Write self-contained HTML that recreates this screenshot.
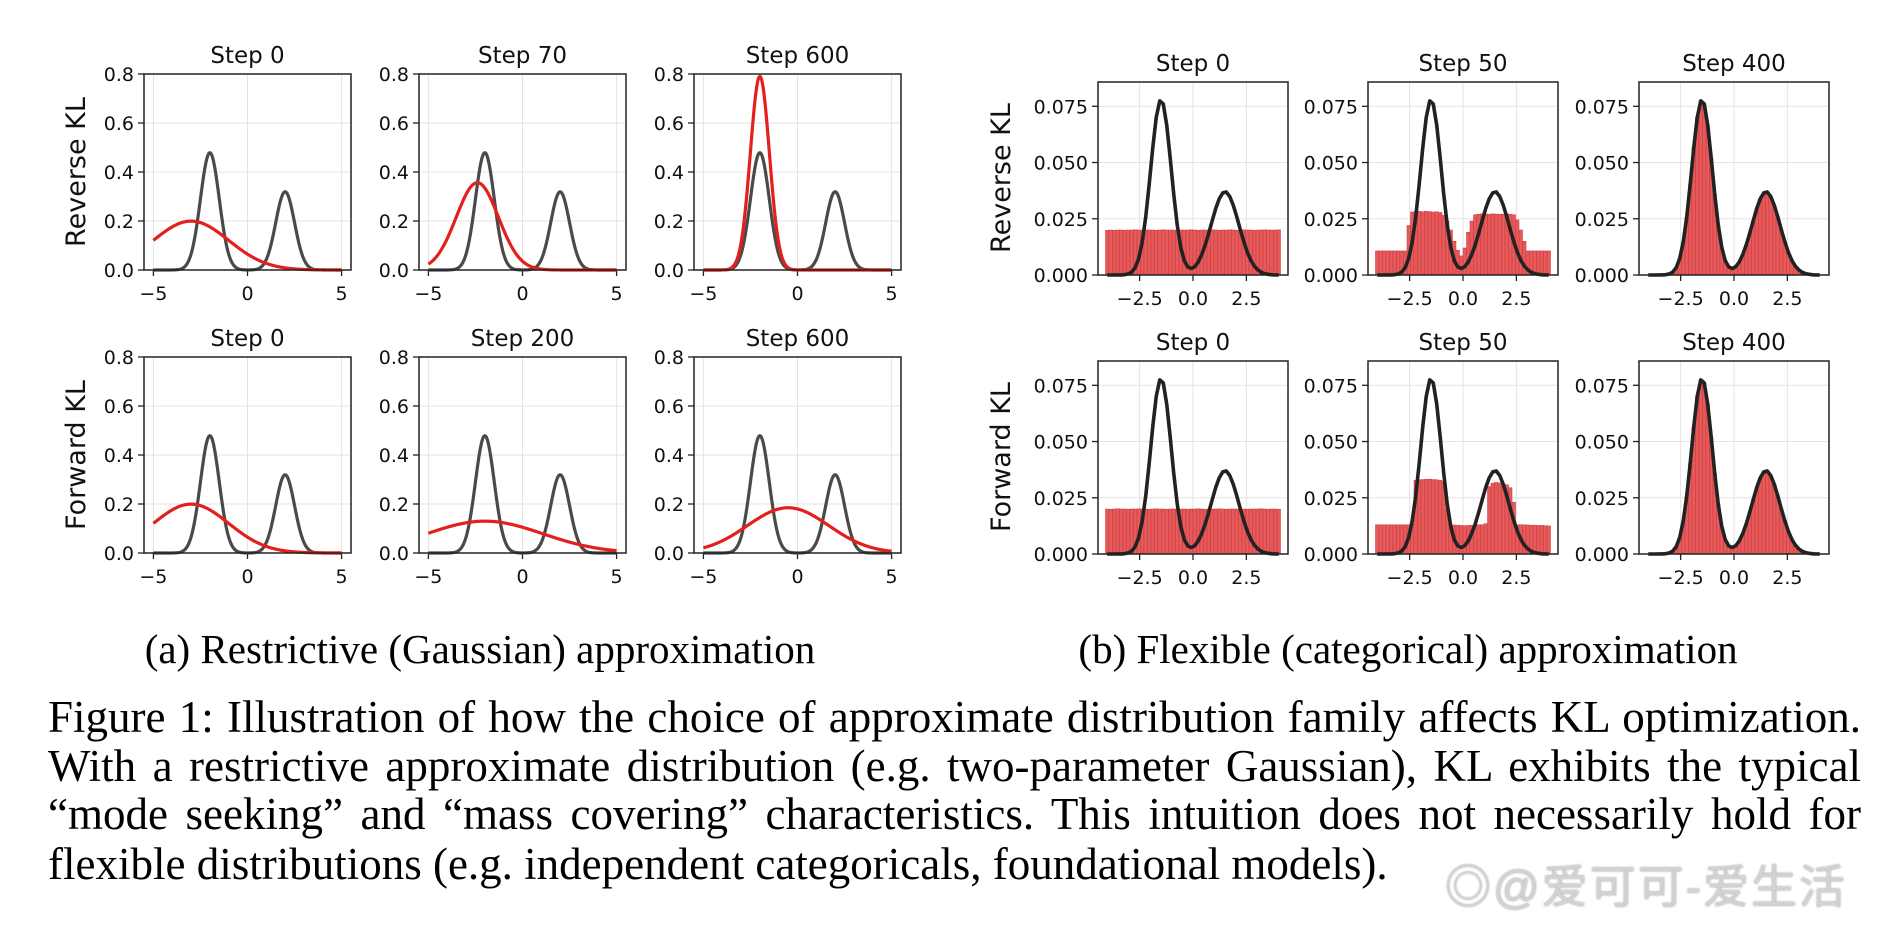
<!DOCTYPE html>
<html><head><meta charset="utf-8">
<style>
html,body{margin:0;padding:0;background:#fff;}
#wrap{position:relative;width:1898px;height:930px;overflow:hidden;background:#fff;}
svg{position:absolute;left:0;top:0;}
.cap{position:absolute;left:48px;width:1813px;font-family:"Liberation Serif",serif;font-size:45px;line-height:49px;white-space:nowrap;color:#000;}
.j{text-align:justify;text-align-last:justify;}
.sub{position:absolute;font-family:"Liberation Serif",serif;font-size:41px;white-space:nowrap;transform:translateX(-50%);color:#000;}
#wm{position:absolute;left:1445px;top:864px;font-family:"Liberation Sans","Noto Sans CJK SC",sans-serif;font-size:46px;line-height:46px;color:#d2d2d2;letter-spacing:2px;white-space:nowrap;text-shadow:0 0 2px #999;}
</style></head>
<body>
<div id="wrap">
<svg id="fig" width="1898" height="930" xmlns="http://www.w3.org/2000/svg"></svg>
<div class="sub" style="left:480px;top:625px;">(a) Restrictive (Gaussian) approximation</div>
<div class="sub" style="left:1408px;top:625px;">(b) Flexible (categorical) approximation</div>
<div class="cap j" style="top:693px;">Figure 1: Illustration of how the choice of approximate distribution family affects KL optimization.</div>
<div class="cap j" style="top:742px;">With a restrictive approximate distribution (e.g. two-parameter Gaussian), KL exhibits the typical</div>
<div class="cap j" style="top:790px;">“mode seeking” and “mass covering” characteristics. This intuition does not necessarily hold for</div>
<div class="cap" style="top:840px;">flexible distributions (e.g. independent categoricals, foundational models).</div>
<div id="wm">◎@爱可可-爱生活</div>
</div>
<script>
// ---- Left (Gaussian) panel data ----
const leftTitlesRev = ["Step 0", "Step 70", "Step 600"];
const leftTitlesFwd = ["Step 0", "Step 200", "Step 600"];
const revMeans = [-3, -2.4, -2];
const revSigmas = [2, 1.12, 0.505];
const fwdMeans = [-3, -2, -0.5];
const fwdSigmas = [2, 3.07, 2.16];
const targetWeights = [0.6, 0.4];
const targetMeans = [-2, 2];
const targetSigmas = [0.5, 0.5];
const leftXTicks = [-5, 0, 5];
const leftYTicks = [0, 0.2, 0.4, 0.6, 0.8];
const leftYTickLabels = ["0.0", "0.2", "0.4", "0.6", "0.8"];

// ---- Right (categorical) panel data ----
const rightTitlesRev = ["Step 0", "Step 50", "Step 400"];
const rightTitlesFwd = ["Step 0", "Step 50", "Step 400"];
const rightXTicks = [-2.5, 0, 2.5];
const rightXTickLabels = ["\u22122.5", "0.0", "2.5"];
const rightYTicks = [0, 0.025, 0.05, 0.075];
const rightYTickLabels = ["0.000", "0.025", "0.050", "0.075"];
const targetProbs = [0,0,0.000002,0.00001,0.00004,0.00015,0.00047,0.0013,0.0033,0.0074,
 0.0147,0.0258,0.0405,0.0565,0.0701,0.0774,0.0761,0.0666,0.0518,0.0359,
 0.0222,0.0123,0.0064,0.0036,0.0029,0.0037,0.0058,0.0091,0.0134,0.0186,
 0.0242,0.0296,0.0339,0.0365,0.0369,0.0349,0.0310,0.0259,0.0202,0.0149,
 0.0102,0.0066,0.0040,0.0023,0.0012,0.0006,0.0003,0.0001,0.00005,0];
const barsRev0 = [0.0199,0.0200,0.0199,0.0200,0.0200,0.0199,0.0200,0.0200,0.0201,0.0200,
 0.0200,0.0201,0.0200,0.0200,0.0199,0.0200,0.0201,0.0200,0.0200,0.0200,
 0.0199,0.0200,0.0200,0.0200,0.0201,0.0200,0.0199,0.0200,0.0200,0.0200,
 0.0201,0.0200,0.0199,0.0200,0.0200,0.0201,0.0200,0.0199,0.0200,0.0201,
 0.0200,0.0200,0.0199,0.0200,0.0200,0.0201,0.0200,0.0200,0.0200,0.0201];
const barsRev50 = [0.0107,0.0107,0.0107,0.0107,0.0107,0.0107,0.0107,0.0107,0.0107,0.0220,
 0.0280,0.0282,0.0283,0.0281,0.0283,0.0282,0.0280,0.0281,0.0278,0.0265,
 0.0240,0.0200,0.0150,0.0110,0.0085,0.0120,0.0190,0.0240,0.0268,0.0270,
 0.0272,0.0271,0.0270,0.0272,0.0271,0.0270,0.0271,0.0272,0.0270,0.0268,
 0.0245,0.0200,0.0150,0.0107,0.0107,0.0107,0.0107,0.0107,0.0107,0.0107];
const barsRev400 = targetProbs.slice();
const barsFwd0 = [0.0200,0.0199,0.0200,0.0201,0.0200,0.0200,0.0199,0.0200,0.0200,0.0201,
 0.0200,0.0200,0.0199,0.0200,0.0201,0.0200,0.0200,0.0199,0.0200,0.0200,
 0.0201,0.0200,0.0200,0.0199,0.0200,0.0200,0.0201,0.0200,0.0199,0.0200,
 0.0200,0.0200,0.0201,0.0200,0.0199,0.0200,0.0200,0.0200,0.0201,0.0200,
 0.0199,0.0200,0.0200,0.0200,0.0201,0.0200,0.0199,0.0200,0.0200,0.0199];
const barsFwd50 = [0.0130,0.0130,0.0130,0.0130,0.0130,0.0130,0.0130,0.0130,0.0130,0.0130,
 0.0135,0.0328,0.0330,0.0331,0.0332,0.0333,0.0331,0.0330,0.0328,0.0320,
 0.0200,0.0130,0.0129,0.0128,0.0127,0.0126,0.0127,0.0128,0.0129,0.0130,
 0.0130,0.0135,0.0300,0.0315,0.0318,0.0316,0.0312,0.0308,0.0295,0.0230,
 0.0130,0.0130,0.0130,0.0129,0.0128,0.0128,0.0127,0.0127,0.0126,0.0125];
const barsFwd400 = targetProbs.slice();

const NS = "http://www.w3.org/2000/svg";
const svg = document.getElementById('fig');
function mk(tag, attrs, parent) {
  const e = document.createElementNS(NS, tag);
  for (const k in attrs) e.setAttribute(k, attrs[k]);
  (parent || svg).appendChild(e);
  return e;
}
const TICKFONT = '"DejaVu Sans","Liberation Sans",sans-serif';

function axesFrame(L, T, W, H, xmin, xmax, ymin, ymax, xt, xtl, yt, ytl, title, name) {
  const g = mk('g', {});
  
  
  const sx = v => L + (v - xmin) / (xmax - xmin) * W;
  const sy = v => T + H - (v - ymin) / (ymax - ymin) * H;
  xt.forEach((v) => {
    const l = mk('line', {x1: sx(v), x2: sx(v), y1: T, y2: T + H, stroke: '#e3e3e3', 'stroke-width': 1}, g);
    
    
  });
  yt.forEach((v) => {
    const l = mk('line', {x1: L, x2: L + W, y1: sy(v), y2: sy(v), stroke: '#e3e3e3', 'stroke-width': 1}, g);
    
    
  });
  xt.forEach((v, i) => {
    mk('line', {x1: sx(v), x2: sx(v), y1: T + H, y2: T + H + 6, stroke: '#222', 'stroke-width': 1.3}, g);
    const t = mk('text', {x: sx(v), y: T + H + 30, 'text-anchor': 'middle', 'font-family': TICKFONT, 'font-size': 19, fill: '#111'}, g);
    t.textContent = xtl[i];
    
    
  });
  yt.forEach((v, i) => {
    mk('line', {x1: L - 6, x2: L, y1: sy(v), y2: sy(v), stroke: '#222', 'stroke-width': 1.3}, g);
    const t = mk('text', {x: L - 10, y: sy(v) + 7, 'text-anchor': 'end', 'font-family': TICKFONT, 'font-size': 19, fill: '#111'}, g);
    t.textContent = ytl[i];
    
    
  });
  const tt = mk('text', {x: L + W / 2, y: T - 11, 'text-anchor': 'middle', 'font-family': TICKFONT, 'font-size': 23, fill: '#111'}, g);
  tt.textContent = title;
  
  
  return {g, sx, sy};
}
function border(g, L, T, W, H) {
  const r = mk('rect', {x: L, y: T, width: W, height: H, fill: 'none', stroke: '#222', 'stroke-width': 1.5}, g);
  
  
}
function gauss(x, m, s) { return Math.exp(-(x - m) * (x - m) / (2 * s * s)) / (s * Math.sqrt(2 * Math.PI)); }

const lLefts = [144, 419, 694], lW = 207, lTops = [74, 357], lH = 196;
function leftPanel(col, row, title, mean, sigma, name) {
  const L = lLefts[col], T = lTops[row];
  const a = axesFrame(L, T, lW, lH, -5.5, 5.5, 0, 0.8, leftXTicks, leftXTicks.map(v => v < 0 ? '\u2212' + (-v) : '' + v), leftYTicks, leftYTickLabels, title, name);
  let pt = [], pr = [];
  for (let i = 0; i <= 300; i++) {
    const x = -5 + 10 * i / 300;
    let y = 0;
    for (let k = 0; k < targetWeights.length; k++) y += targetWeights[k] * gauss(x, targetMeans[k], targetSigmas[k]);
    pt.push(a.sx(x).toFixed(2) + ',' + a.sy(y).toFixed(2));
    pr.push(a.sx(x).toFixed(2) + ',' + a.sy(gauss(x, mean, sigma)).toFixed(2));
  }
  const c1 = mk('polyline', {points: pt.join(' '), fill: 'none', stroke: '#4a4a4a', 'stroke-width': 3.2, 'stroke-linejoin': 'round'}, a.g);
  
  
  const c2 = mk('polyline', {points: pr.join(' '), fill: 'none', stroke: '#e3201b', 'stroke-width': 3.2, 'stroke-linejoin': 'round'}, a.g);
  
  
  border(a.g, L, T, lW, lH);
}
for (let c = 0; c < 3; c++) {
  leftPanel(c, 0, leftTitlesRev[c], revMeans[c], revSigmas[c], 'reverse-kl-gaussian-panel-' + c);
  leftPanel(c, 1, leftTitlesFwd[c], fwdMeans[c], fwdSigmas[c], 'forward-kl-gaussian-panel-' + c);
}

const rLefts = [1098, 1368, 1639], rW = 190, rTops = [82, 361], rH = 193;
const binLo = -4.1, binHi = 4.1;
function rightPanel(col, row, title, bars, name) {
  const L = rLefts[col], T = rTops[row];
  const a = axesFrame(L, T, rW, rH, -4.45, 4.45, 0, 0.0858, rightXTicks, rightXTickLabels, rightYTicks, rightYTickLabels, title, name);
  const n = bars.length, bw = (binHi - binLo) / n;
  bars.forEach((v, i) => {
    const x0 = a.sx(binLo + i * bw), x1 = a.sx(binLo + (i + 1) * bw);
    const r = mk('rect', {x: x0, y: a.sy(v), width: x1 - x0, height: a.sy(0) - a.sy(v), fill: '#e65a5c', stroke: '#c9393b', 'stroke-width': 0.5}, a.g);
    
    
  });
  const pts = targetProbs.map((v, i) => a.sx(binLo + (i + 0.5) * bw).toFixed(2) + ',' + a.sy(v).toFixed(2));
  const c = mk('polyline', {points: pts.join(' '), fill: 'none', stroke: '#222', 'stroke-width': 3.6, 'stroke-linejoin': 'round'}, a.g);
  
  
  border(a.g, L, T, rW, rH);
}
const revBars = [barsRev0, barsRev50, barsRev400];
const fwdBars = [barsFwd0, barsFwd50, barsFwd400];
for (let c = 0; c < 3; c++) {
  rightPanel(c, 0, rightTitlesRev[c], revBars[c], 'reverse-kl-categorical-panel-' + c);
  rightPanel(c, 1, rightTitlesFwd[c], fwdBars[c], 'forward-kl-categorical-panel-' + c);
}

function rowLabel(x, y, txt, name) {
  const t = mk('text', {x: x, y: y, 'text-anchor': 'middle', 'font-family': TICKFONT, 'font-size': 27, fill: '#111', transform: 'rotate(-90 ' + x + ' ' + y + ')'});
  t.textContent = txt;
  
  
}
rowLabel(85, 172, 'Reverse KL', 'y-axis-title-reverse-kl-a');
rowLabel(85, 455, 'Forward KL', 'y-axis-title-forward-kl-a');
rowLabel(1010, 178, 'Reverse KL', 'y-axis-title-reverse-kl-b');
rowLabel(1010, 457, 'Forward KL', 'y-axis-title-forward-kl-b');
</script>
</body></html>
